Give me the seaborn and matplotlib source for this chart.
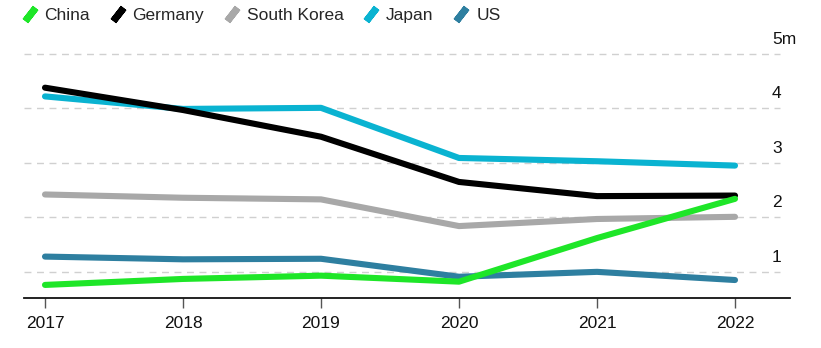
import matplotlib
matplotlib.use("Agg")
import matplotlib.pyplot as plt
from matplotlib.lines import Line2D
from matplotlib.transforms import ScaledTranslation
import seaborn as sns
import pandas as pd

years = [2017, 2018, 2019, 2020, 2021, 2022]
china = [0.76, 0.87, 0.93, 0.82, 1.62, 2.34]
germany = [4.38, 3.97, 3.48, 2.65, 2.39, 2.40]
south_korea = [2.42, 2.36, 2.33, 1.84, 1.97, 2.01]
japan = [4.22, 3.99, 4.01, 3.09, 3.03, 2.95]
us = [1.28, 1.23, 1.24, 0.91, 1.00, 0.85]

legend_order = ["China", "Germany", "South Korea", "Japan", "US"]
draw_order = ["South Korea", "Japan", "Germany", "US", "China"]
colors = {"China": "#1ee628", "Germany": "#000000", "South Korea": "#a8a8a8",
          "Japan": "#0ab3d1", "US": "#2e7fa0"}
y_ticks = [1, 2, 3, 4, 5]
y_tick_labels = ["1", "2", "3", "4", "5m"]

series = {"China": china, "Germany": germany, "South Korea": south_korea,
          "Japan": japan, "US": us}
df = pd.DataFrame([{"year": y, "country": c, "value": v}
                   for c in legend_order for y, v in zip(years, series[c])])

sns.set_theme(style="white")
plt.rcParams["font.family"] = ["Liberation Sans", "DejaVu Sans"]

fig = plt.figure(figsize=(8.21, 3.48), dpi=100)
ax = fig.add_axes([24 / 821, 50 / 348, 766 / 821, 255 / 348])

for c in draw_order:
    sns.lineplot(data=df[df["country"] == c], x="year", y="value", color=colors[c],
                 linewidth=4.4, ax=ax, solid_capstyle="round",
                 solid_joinstyle="round", legend=False, clip_on=False, zorder=3)

ax.set_xlim(2017 - 21 / 138, 2022 + 55 / 138)
ax.set_ylim(0.52, 5.2)
ax.set_xticks(years)
ax.set_xticklabels([str(y) for y in years])
ax.set_yticks(y_ticks)
ax.set_yticklabels(y_tick_labels)
ax.set_xlabel("")
ax.set_ylabel("")

for s in ["top", "left", "right"]:
    ax.spines[s].set_visible(False)
ax.spines["bottom"].set_color("#111111")
ax.spines["bottom"].set_linewidth(1.3)

ax.grid(False)
for yv in y_ticks:
    ax.axhline(yv, xmin=0, xmax=(780 - 24) / 766, color="#d0d0d0",
               linestyle=(0, (5, 4)), linewidth=1.0, zorder=1)

ax.tick_params(axis="x", bottom=True, length=7, width=1.0, color="#555555",
               labelsize=12.5, pad=6, labelcolor="#111111")
ax.tick_params(axis="y", left=False, right=False, labelleft=False, labelright=True,
               labelsize=12.5, pad=-19, labelcolor="#111111")
for lab in ax.get_yticklabels():
    lab.set_horizontalalignment("left")
    lab.set_verticalalignment("bottom")
    lab.set_transform(lab.get_transform() + ScaledTranslation(0, 5 / 72, fig.dpi_scale_trans))

handles = [Line2D([], [], linestyle="none", marker=(2, 2, -38), markersize=12,
                  markeredgewidth=5, markeredgecolor=colors[c], color=colors[c])
           for c in legend_order]
fig.legend(handles, legend_order, loc="center left", bbox_to_anchor=(21 / 821, 1 - 15 / 348),
           ncol=5, frameon=False, fontsize=12.5, handlelength=1.0, handletextpad=0.35,
           columnspacing=1.1, borderpad=0, borderaxespad=0)

fig.savefig("out.png", dpi=100)
